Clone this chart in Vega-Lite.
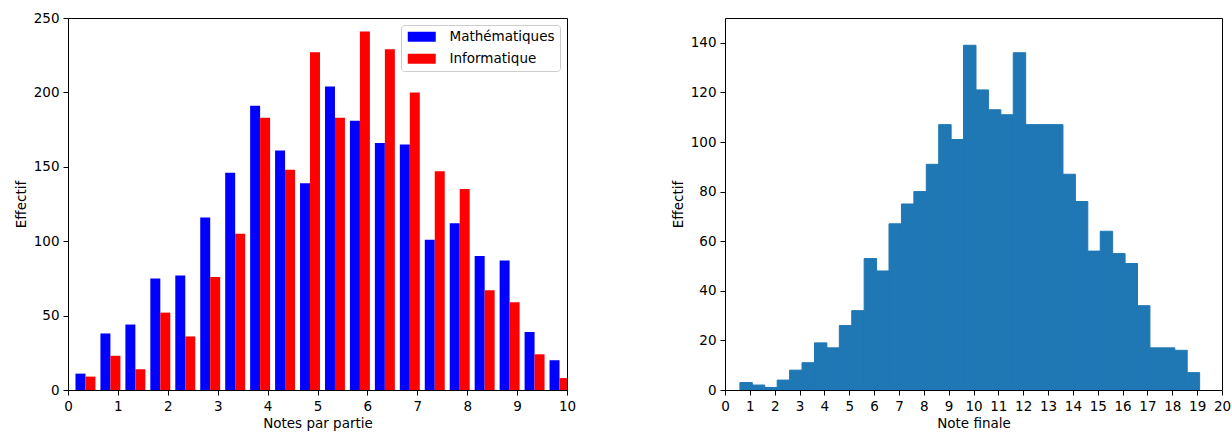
{
  "$schema": "https://vega.github.io/schema/vega-lite/v6.json",
  "background": "white",
  "padding": {"left": 13, "top": 10, "right": 2, "bottom": 2},
  "spacing": 93,
  "resolve": {"legend": {"color": "independent"}, "scale": {"color": "independent"}},
  "config": {
    "font": "DejaVu Sans",
    "view": {"stroke": "#000000", "strokeWidth": 1},
    "axis": {
      "domain": false,
      "grid": false,
      "tickColor": "#000000",
      "tickSize": 5,
      "tickWidth": 1,
      "labelColor": "#000000",
      "labelFont": "DejaVu Sans",
      "labelFontSize": 13.5,
      "labelPadding": 4,
      "titleColor": "#000000",
      "titleFont": "DejaVu Sans",
      "titleFontSize": 13.5,
      "titleFontWeight": "normal",
      "titlePadding": 5
    }
  },
  "datasets": {
    "parties": [
      {"debut": 0.15, "fin": 0.35, "matiere": "Mathématiques", "effectif": 11},
      {"debut": 0.35, "fin": 0.55, "matiere": "Informatique", "effectif": 9},
      {"debut": 0.65, "fin": 0.85, "matiere": "Mathématiques", "effectif": 38},
      {"debut": 0.85, "fin": 1.05, "matiere": "Informatique", "effectif": 23},
      {"debut": 1.15, "fin": 1.35, "matiere": "Mathématiques", "effectif": 44},
      {"debut": 1.35, "fin": 1.55, "matiere": "Informatique", "effectif": 14},
      {"debut": 1.65, "fin": 1.85, "matiere": "Mathématiques", "effectif": 75},
      {"debut": 1.85, "fin": 2.05, "matiere": "Informatique", "effectif": 52},
      {"debut": 2.15, "fin": 2.35, "matiere": "Mathématiques", "effectif": 77},
      {"debut": 2.35, "fin": 2.55, "matiere": "Informatique", "effectif": 36},
      {"debut": 2.65, "fin": 2.85, "matiere": "Mathématiques", "effectif": 116},
      {"debut": 2.85, "fin": 3.05, "matiere": "Informatique", "effectif": 76},
      {"debut": 3.15, "fin": 3.35, "matiere": "Mathématiques", "effectif": 146},
      {"debut": 3.35, "fin": 3.55, "matiere": "Informatique", "effectif": 105},
      {"debut": 3.65, "fin": 3.85, "matiere": "Mathématiques", "effectif": 191},
      {"debut": 3.85, "fin": 4.05, "matiere": "Informatique", "effectif": 183},
      {"debut": 4.15, "fin": 4.35, "matiere": "Mathématiques", "effectif": 161},
      {"debut": 4.35, "fin": 4.55, "matiere": "Informatique", "effectif": 148},
      {"debut": 4.65, "fin": 4.85, "matiere": "Mathématiques", "effectif": 139},
      {"debut": 4.85, "fin": 5.05, "matiere": "Informatique", "effectif": 227},
      {"debut": 5.15, "fin": 5.35, "matiere": "Mathématiques", "effectif": 204},
      {"debut": 5.35, "fin": 5.55, "matiere": "Informatique", "effectif": 183},
      {"debut": 5.65, "fin": 5.85, "matiere": "Mathématiques", "effectif": 181},
      {"debut": 5.85, "fin": 6.05, "matiere": "Informatique", "effectif": 241},
      {"debut": 6.15, "fin": 6.35, "matiere": "Mathématiques", "effectif": 166},
      {"debut": 6.35, "fin": 6.55, "matiere": "Informatique", "effectif": 229},
      {"debut": 6.65, "fin": 6.85, "matiere": "Mathématiques", "effectif": 165},
      {"debut": 6.85, "fin": 7.05, "matiere": "Informatique", "effectif": 200},
      {"debut": 7.15, "fin": 7.35, "matiere": "Mathématiques", "effectif": 101},
      {"debut": 7.35, "fin": 7.55, "matiere": "Informatique", "effectif": 147},
      {"debut": 7.65, "fin": 7.85, "matiere": "Mathématiques", "effectif": 112},
      {"debut": 7.85, "fin": 8.05, "matiere": "Informatique", "effectif": 135},
      {"debut": 8.15, "fin": 8.35, "matiere": "Mathématiques", "effectif": 90},
      {"debut": 8.35, "fin": 8.55, "matiere": "Informatique", "effectif": 67},
      {"debut": 8.65, "fin": 8.85, "matiere": "Mathématiques", "effectif": 87},
      {"debut": 8.85, "fin": 9.05, "matiere": "Informatique", "effectif": 59},
      {"debut": 9.15, "fin": 9.35, "matiere": "Mathématiques", "effectif": 39},
      {"debut": 9.35, "fin": 9.55, "matiere": "Informatique", "effectif": 24},
      {"debut": 9.65, "fin": 9.85, "matiere": "Mathématiques", "effectif": 20},
      {"debut": 9.85, "fin": 10.05, "matiere": "Informatique", "effectif": 8}
    ],
    "finale": [
      {"debut": 0.6, "fin": 1.1, "effectif": 3},
      {"debut": 1.1, "fin": 1.6, "effectif": 2},
      {"debut": 1.6, "fin": 2.1, "effectif": 1},
      {"debut": 2.1, "fin": 2.6, "effectif": 4},
      {"debut": 2.6, "fin": 3.1, "effectif": 8},
      {"debut": 3.1, "fin": 3.6, "effectif": 11},
      {"debut": 3.6, "fin": 4.1, "effectif": 19},
      {"debut": 4.1, "fin": 4.6, "effectif": 17},
      {"debut": 4.6, "fin": 5.1, "effectif": 26},
      {"debut": 5.1, "fin": 5.6, "effectif": 32},
      {"debut": 5.6, "fin": 6.1, "effectif": 53},
      {"debut": 6.1, "fin": 6.6, "effectif": 48},
      {"debut": 6.6, "fin": 7.1, "effectif": 67},
      {"debut": 7.1, "fin": 7.6, "effectif": 75},
      {"debut": 7.6, "fin": 8.1, "effectif": 80},
      {"debut": 8.1, "fin": 8.6, "effectif": 91},
      {"debut": 8.6, "fin": 9.1, "effectif": 107},
      {"debut": 9.1, "fin": 9.6, "effectif": 101},
      {"debut": 9.6, "fin": 10.1, "effectif": 139},
      {"debut": 10.1, "fin": 10.6, "effectif": 121},
      {"debut": 10.6, "fin": 11.1, "effectif": 113},
      {"debut": 11.1, "fin": 11.6, "effectif": 111},
      {"debut": 11.6, "fin": 12.1, "effectif": 136},
      {"debut": 12.1, "fin": 12.6, "effectif": 107},
      {"debut": 12.6, "fin": 13.1, "effectif": 107},
      {"debut": 13.1, "fin": 13.6, "effectif": 107},
      {"debut": 13.6, "fin": 14.1, "effectif": 87},
      {"debut": 14.1, "fin": 14.6, "effectif": 76},
      {"debut": 14.6, "fin": 15.1, "effectif": 56},
      {"debut": 15.1, "fin": 15.6, "effectif": 64},
      {"debut": 15.6, "fin": 16.1, "effectif": 55},
      {"debut": 16.1, "fin": 16.6, "effectif": 51},
      {"debut": 16.6, "fin": 17.1, "effectif": 34},
      {"debut": 17.1, "fin": 17.6, "effectif": 17},
      {"debut": 17.6, "fin": 18.1, "effectif": 17},
      {"debut": 18.1, "fin": 18.6, "effectif": 16},
      {"debut": 18.6, "fin": 19.1, "effectif": 7}
    ]
  },
  "hconcat": [
    {
      "width": 499,
      "height": 372,
      "data": {"name": "parties"},
      "mark": {"type": "bar", "clip": true, "strokeWidth": 0},
      "encoding": {
        "x": {
          "field": "debut",
          "type": "quantitative",
          "scale": {"domain": [0, 10], "nice": false, "zero": false},
          "axis": {"title": "Notes par partie", "values": [0, 1, 2, 3, 4, 5, 6, 7, 8, 9, 10], "labelFlush": false, "titlePadding": 4}
        },
        "x2": {"field": "fin"},
        "y": {
          "field": "effectif",
          "type": "quantitative",
          "scale": {"domain": [0, 250], "nice": false},
          "axis": {"title": "Effectif", "values": [0, 50, 100, 150, 200, 250]}
        },
        "y2": {"datum": 0},
        "color": {
          "field": "matiere",
          "type": "nominal",
          "scale": {"domain": ["Mathématiques", "Informatique"], "range": ["#0000ff", "#ff0000"]},
          "legend": {
            "title": null,
            "orient": "top-right",
            "offset": 7,
            "fillColor": "#ffffff",
            "strokeColor": "#cccccc",
            "cornerRadius": 3,
            "padding": 5,
            "symbolType": "M-1,-1H4.6V1H-1Z",
            "symbolSize": 100,
            "symbolStrokeWidth": 0,
            "symbolOpacity": 1,
            "labelFont": "DejaVu Sans",
            "labelFontSize": 13.5,
            "labelColor": "#000000",
            "labelOffset": 30,
            "rowPadding": 7
          }
        }
      }
    },
    {
      "width": 497,
      "height": 372,
      "data": {"name": "finale"},
      "mark": {"type": "bar", "color": "#1f77b4", "stroke": "#1f77b4", "strokeWidth": 1, "clip": true},
      "encoding": {
        "x": {
          "field": "debut",
          "type": "quantitative",
          "scale": {"domain": [0, 20], "nice": false, "zero": false},
          "axis": {"title": "Note finale", "values": [0, 1, 2, 3, 4, 5, 6, 7, 8, 9, 10, 11, 12, 13, 14, 15, 16, 17, 18, 19, 20], "labelFlush": false, "titlePadding": 4}
        },
        "x2": {"field": "fin"},
        "y": {
          "field": "effectif",
          "type": "quantitative",
          "scale": {"domain": [0, 150], "nice": false},
          "axis": {"title": "Effectif", "values": [0, 20, 40, 60, 80, 100, 120, 140]}
        },
        "y2": {"datum": 0}
      }
    }
  ]
}
